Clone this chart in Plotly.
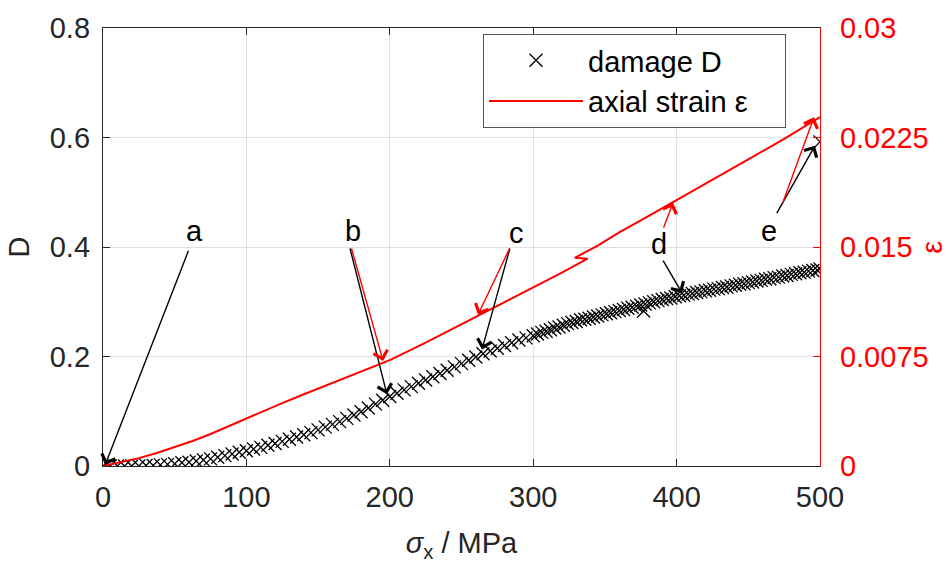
import plotly.graph_objects as go

# ---- data ----
stress_D = [0, 5, 10, 15, 20, 25, 30, 35, 40, 45, 50, 55, 60, 65, 70, 75, 80, 85, 90, 95,
            100, 105, 110, 115, 120, 125, 130, 135, 140, 145, 150, 155, 160, 165, 170, 175,
            180, 185, 190, 195, 200, 205, 210, 215, 220, 225, 230, 235, 240, 245, 250, 255,
            260, 265, 270, 275, 280, 285, 290, 295, 300,
            303, 306, 309, 312, 315, 318, 321, 324, 327, 330, 333, 336, 339, 342, 345, 348,
            351, 354, 357, 360, 363, 366, 369, 372, 375, 378, 381, 384, 387, 390, 393, 396,
            399, 402, 405, 408, 411, 414, 417, 420, 423, 426, 429, 432, 435, 438, 441, 444,
            447, 450, 453, 456, 459, 462, 465, 468, 471, 474, 477, 480, 483, 486, 489, 492,
            495, 498, 500, 377, 500]
damage = [0, 0, 0, 0, 0, 0, 0.001, 0.001, 0.002, 0.003, 0.004, 0.006, 0.007, 0.009, 0.011,
          0.013, 0.016, 0.019, 0.022, 0.025, 0.028, 0.031, 0.034, 0.038, 0.041, 0.045, 0.049,
          0.053, 0.057, 0.061, 0.066, 0.071, 0.076, 0.081, 0.087, 0.093, 0.099, 0.106, 0.113,
          0.120, 0.127, 0.133, 0.139, 0.145, 0.151, 0.157, 0.163, 0.169, 0.175, 0.181, 0.187,
          0.193, 0.199, 0.205, 0.210, 0.215, 0.220, 0.225, 0.230, 0.234, 0.238,
          0.241, 0.244, 0.246, 0.249, 0.252, 0.254, 0.257, 0.260, 0.262, 0.264, 0.267, 0.268,
          0.270, 0.272, 0.274, 0.276, 0.278, 0.280, 0.282, 0.284, 0.286, 0.288, 0.290, 0.292,
          0.294, 0.296, 0.298, 0.300, 0.302, 0.304, 0.306, 0.307, 0.309, 0.311, 0.312, 0.314,
          0.315, 0.317, 0.318, 0.320, 0.321, 0.323, 0.324, 0.326, 0.327, 0.329, 0.330, 0.332,
          0.333, 0.335, 0.336, 0.338, 0.339, 0.341, 0.342, 0.344, 0.345, 0.347, 0.348, 0.350,
          0.351, 0.353, 0.354, 0.356, 0.357, 0.358, 0.360, 0.283, 0.592]

stress_eps = [0, 12.5, 25, 37.5, 50, 62.5, 75, 87.5, 100, 112.5, 125, 137.5, 150, 162.5,
              175, 187.5, 200, 225, 250, 275, 300, 320, 338, 329, 345, 360, 380, 400, 425,
              450, 475, 500]
strain = [0, 0.00025, 0.00054, 0.00089, 0.00128, 0.00171, 0.00219, 0.00272, 0.0033, 0.00381,
          0.00431, 0.00481, 0.0053, 0.00578, 0.00626, 0.00675, 0.00725, 0.00845, 0.0097,
          0.01096, 0.01222, 0.01324, 0.0142, 0.01426, 0.0151, 0.0160, 0.0171, 0.0182, 0.0196,
          0.0210, 0.0224, 0.0239]

x_ticks = [0, 100, 200, 300, 400, 500]
d_ticks = [0, 0.2, 0.4, 0.6, 0.8]
d_ticktext = ["0", "0.2", "0.4", "0.6", "0.8"]
e_ticks = [0, 0.0075, 0.015, 0.0225, 0.03]
e_ticktext = ["0", "0.0075", "0.015", "0.0225", "0.03"]

# labels: (text, x, D)
labels = [("a", 63.5, 0.43), ("b", 174, 0.43), ("c", 288.5, 0.425), ("d", 387.5, 0.405),
          ("e", 464.5, 0.43)]
# black arrows on D axis: (tail_x, tail_D, tip_x, tip_D)
black_arrows = [(60, 0.396, 1.5, 0.002), (172, 0.400, 198, 0.131),
                (284, 0.400, 264.3, 0.213), (390, 0.378, 403.8, 0.316),
                (469.3, 0.459, 496.5, 0.585)]
# red arrows on strain axis: (tail_x, tail_eps, tip_x, tip_eps)
red_arrows = [(173, 0.0150, 195.3, 0.0072), (284, 0.0150, 261.5, 0.01036),
              (390.5, 0.01621, 397.5, 0.01803), (473.5, 0.01789, 495.8, 0.02388)]

FONT = "Liberation Sans, Arial, Helvetica, sans-serif"
DARK = "#262626"
RED = "#FF0000"
FS = 29
PAD = "\u00a0" * 4

fig = go.Figure()
fig.add_trace(go.Scatter(x=stress_D, y=damage, mode="markers", name="damage D",
                         marker=dict(symbol="x-thin", size=13, color="black",
                                     line=dict(color="black", width=1.3)),
                         yaxis="y"))
fig.add_trace(go.Scatter(x=stress_eps, y=strain, mode="lines", name="axial strain ε" + PAD,
                         line=dict(color=RED, width=2), yaxis="y2"))

anns = []
for t, x, y in labels:
    anns.append(dict(text=t, x=x, y=y, xref="x", yref="y", showarrow=False,
                     font=dict(size=FS, color="black", family=FONT)))
for tx, ty, hx, hy in black_arrows:
    anns.append(dict(text="", x=hx, y=hy, ax=tx, ay=ty, xref="x", yref="y",
                     axref="x", ayref="y", showarrow=True, arrowhead=4, arrowsize=2.0,
                     arrowwidth=1.4, arrowcolor="black"))
for tx, ty, hx, hy in red_arrows:
    anns.append(dict(text="", x=hx, y=hy, ax=tx, ay=ty, xref="x", yref="y2",
                     axref="x", ayref="y2", showarrow=True, arrowhead=4, arrowsize=2.0,
                     arrowwidth=1.4, arrowcolor=RED))
# right axis title
anns.append(dict(text="ε", x=1.181, y=0.5, xref="paper", yref="paper", showarrow=False,
                 textangle=-90, font=dict(size=FS, color=RED, family=FONT)))

fig.update_layout(
    width=949, height=568,
    margin=dict(l=103, r=129, t=20, b=102),
    paper_bgcolor="white", plot_bgcolor="white",
    font=dict(family=FONT, size=FS, color=DARK),
    showlegend=True,
    legend=dict(x=(483 - 103) / 717, y=(466 - 26) / 446, xanchor="left", yanchor="top",
                bgcolor="white", bordercolor="#555555", borderwidth=1,
                font=dict(size=FS, color="black", family=FONT),
                itemwidth=94, tracegroupgap=0),
    xaxis=dict(range=[0, 500], tickvals=x_ticks, ticks="inside", ticklen=7,
               tickcolor=DARK, showline=True, linecolor=DARK, linewidth=1.3,
               mirror="ticks", showgrid=True, gridcolor="#e0e0e0", gridwidth=1,
               zeroline=False, tickfont=dict(size=FS, color=DARK), ticklabelstandoff=5,
               title=dict(text="<i>σ</i><sub>x</sub> / MPa", font=dict(size=FS, color=DARK),
                          standoff=20)),
    yaxis=dict(range=[0, 0.8], tickvals=d_ticks, ticktext=d_ticktext, ticks="inside",
               ticklen=7, tickcolor=DARK, showline=True, linecolor=DARK, linewidth=1.3,
               showgrid=True, gridcolor="#e0e0e0", gridwidth=1, zeroline=False,
               tickfont=dict(size=FS, color=DARK), ticklabelstandoff=6,
               title=dict(text="D", font=dict(size=FS, color=DARK), standoff=11)),
    yaxis2=dict(range=[0, 0.03], tickvals=e_ticks, ticktext=e_ticktext, overlaying="y",
                side="right", ticks="inside", ticklen=7, tickcolor=RED, showline=True,
                linecolor=RED, linewidth=1.3, showgrid=False, zeroline=False,
                tickfont=dict(size=FS, color=RED), ticklabelstandoff=13),
    annotations=anns,
)

fig.write_html("out.html")
